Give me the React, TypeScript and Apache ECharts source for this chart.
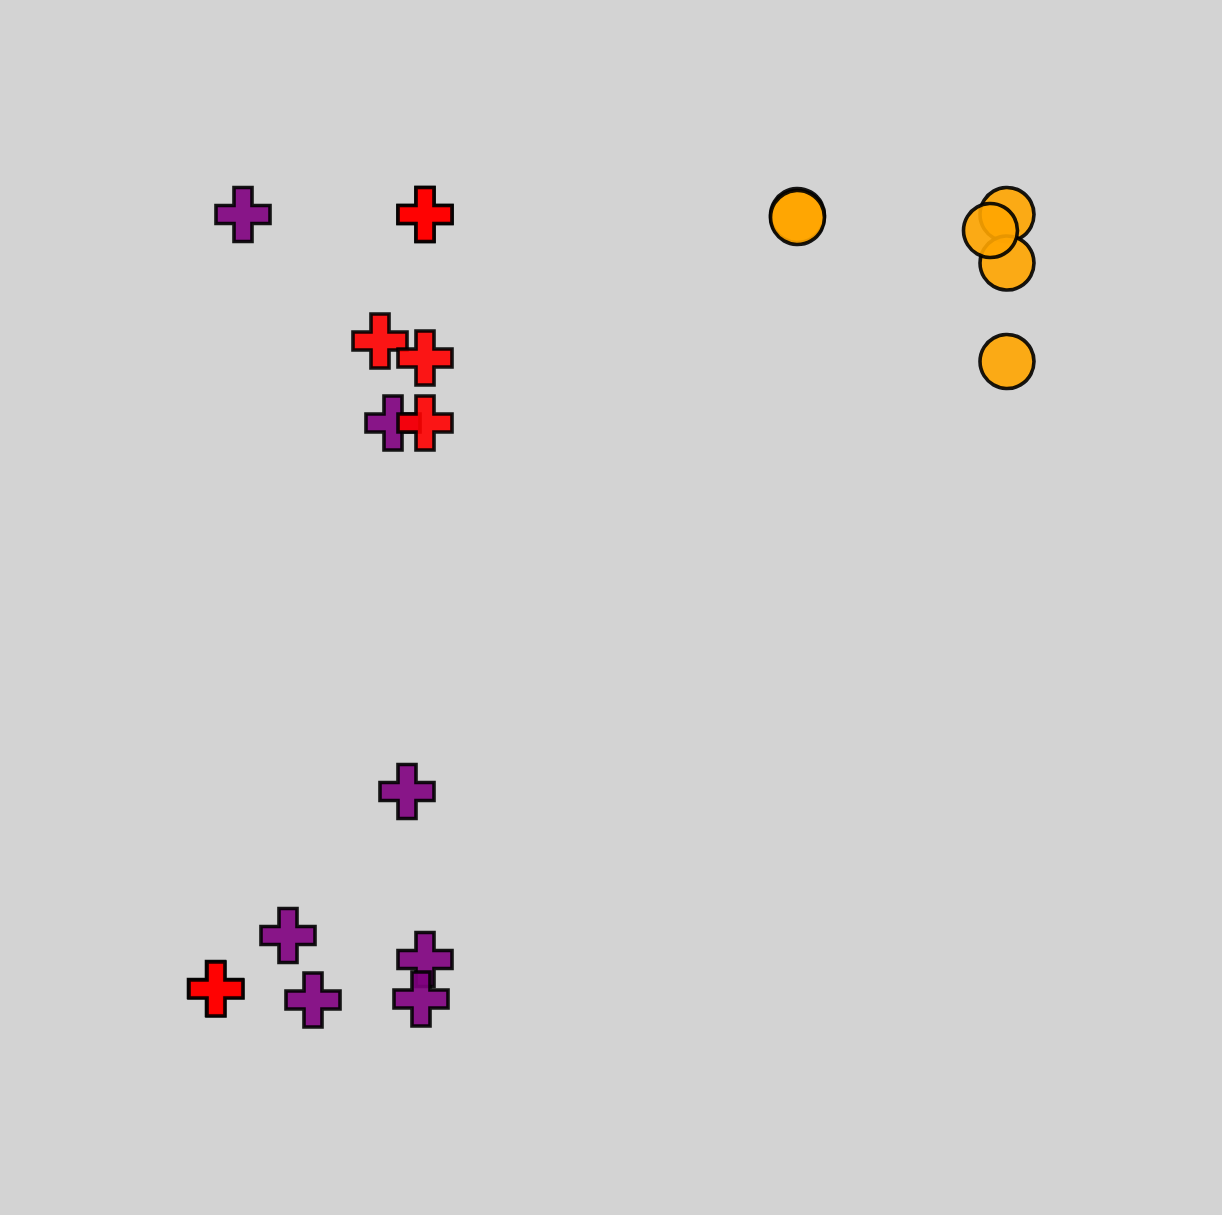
import React, { useEffect, useRef } from "react";
import * as echarts from "echarts";

// Values in chart units (x: 0..12.22, y: 0..12.15)
const purpleX = [2.43, 3.93, 4.07, 2.88, 3.13, 4.25, 4.21];
const purpleY = [10.005, 7.92, 4.235, 2.795, 2.15, 2.555, 2.16];

const redX = [4.25, 4.25, 3.8, 4.25, 4.25, 2.155, 2.16];
const redY = [10.005, 10.005, 8.74, 8.57, 7.92, 2.265, 2.26];

const orangeX = [7.975, 7.975, 10.07, 10.07, 9.905, 10.07];
const orangeY = [9.995, 9.975, 10.005, 9.52, 9.845, 8.535];

const CROSS = "path://M1,0 H2 V1 H3 V2 H2 V3 H1 V2 H0 V1 H1 Z";

const zip = (xs: number[], ys: number[]) => xs.map((x, i) => [x, ys[i]]);

export default function App() {
  const ref = useRef<HTMLDivElement>(null);
  useEffect(() => {
    document.body.style.margin = "0";
    document.body.style.background = "#d3d3d3";
    const chart = echarts.init(ref.current!, null, { renderer: "svg" });
    const base = {
      type: "scatter" as const,
      symbolSize: 54,
      silent: true,
    };
    const border = { borderColor: "#000", borderWidth: 3.6, opacity: 0.9 };
    chart.setOption({
      animation: false,
      backgroundColor: "#d3d3d3",
      grid: { left: 0, right: 0, top: 0, bottom: 0 },
      xAxis: { type: "value", min: 0, max: 12.22, show: false },
      yAxis: { type: "value", min: 0, max: 12.15, show: false },
      series: [
        {
          ...base,
          symbol: CROSS,
          data: zip(purpleX, purpleY),
          itemStyle: { color: "#800080", ...border },
        },
        {
          ...base,
          symbol: CROSS,
          data: zip(redX, redY),
          itemStyle: { color: "#ff0000", ...border },
        },
        {
          ...base,
          symbol: "circle",
          data: zip(orangeX, orangeY),
          itemStyle: { color: "#ffa500", ...border },
        },
      ],
    });
    return () => chart.dispose();
  }, []);
  return <div ref={ref} style={{ width: 1222, height: 1215 }} />;
}
